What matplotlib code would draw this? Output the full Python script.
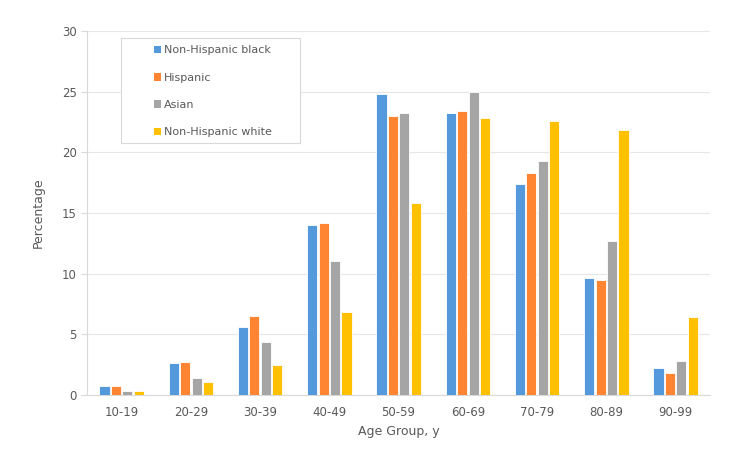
import matplotlib
matplotlib.use("Agg")
import matplotlib.pyplot as plt
from matplotlib.patches import Rectangle
import numpy as np

categories = ["10-19", "20-29", "30-39", "40-49", "50-59", "60-69", "70-79", "80-89", "90-99"]
series_names = ["Non-Hispanic black", "Hispanic", "Asian", "Non-Hispanic white"]
black = [0.7, 2.6, 5.6, 14.0, 24.8, 23.2, 17.4, 9.6, 2.2]
hispanic = [0.7, 2.7, 6.5, 14.2, 23.0, 23.4, 18.3, 9.5, 1.8]
asian = [0.3, 1.4, 4.4, 11.0, 23.2, 25.0, 19.3, 12.7, 2.8]
white = [0.3, 1.1, 2.5, 6.8, 15.8, 22.8, 22.6, 21.8, 6.4]
colors = ["#5599DD", "#FF8533", "#A5A5A5", "#FFC000"]
yticks = [0, 5, 10, 15, 20, 25, 30]

plt.rcParams['font.family'] = ['DejaVu Sans']
fig = plt.figure(figsize=(7.5, 4.54), dpi=100)
ax = fig.add_axes([0.116, 0.13, 0.831, 0.802])

x = np.arange(len(categories))
step = 0.165
width = 0.145
txt = "#595959"
for i, (vals, c, name) in enumerate(zip([black, hispanic, asian, white], colors, series_names)):
    ax.bar(x + (i - 1.5) * step, vals, width=width, color=c, label=name,
           edgecolor="white", linewidth=0.6, zorder=3)

ax.set_xlim(-0.5, len(categories) - 0.5)
ax.set_ylim(0, 30)
ax.set_yticks(yticks)
ax.set_xticks(x)
ax.set_xticklabels(categories)
ax.yaxis.grid(True, color="#E6E6E6", linewidth=0.8, zorder=0)
for s in ["top", "right"]:
    ax.spines[s].set_visible(False)
ax.spines["left"].set_color("#D9D9D9")
ax.spines["bottom"].set_color("#D9D9D9")
ax.tick_params(axis="y", colors="#D9D9D9", labelcolor=txt, labelsize=8.5, length=4)
ax.tick_params(axis="x", length=0, labelcolor=txt, labelsize=8.5, pad=8)
ax.set_xlabel("Age Group, y", color=txt, fontsize=9, labelpad=4)
ax.set_ylabel("Percentage", color=txt, fontsize=9, labelpad=12)

# legend box
ax.add_patch(Rectangle((0.0546, 0.692), 0.2875, 0.289, transform=ax.transAxes,
                       facecolor="white", edgecolor="#D9D9D9", linewidth=0.8, zorder=5))
leg = ax.legend(loc="upper left", bbox_to_anchor=(0.107, 0.960), frameon=False,
                fontsize=8, handlelength=0.65, handleheight=0.65,
                labelspacing=1.56, borderpad=0, handletextpad=0.25, borderaxespad=0)
leg.set_zorder(6)
for t in leg.get_texts():
    t.set_color(txt)
for h in leg.legend_handles:
    h.set_linewidth(0)
fig.savefig("out.png", dpi=100)
